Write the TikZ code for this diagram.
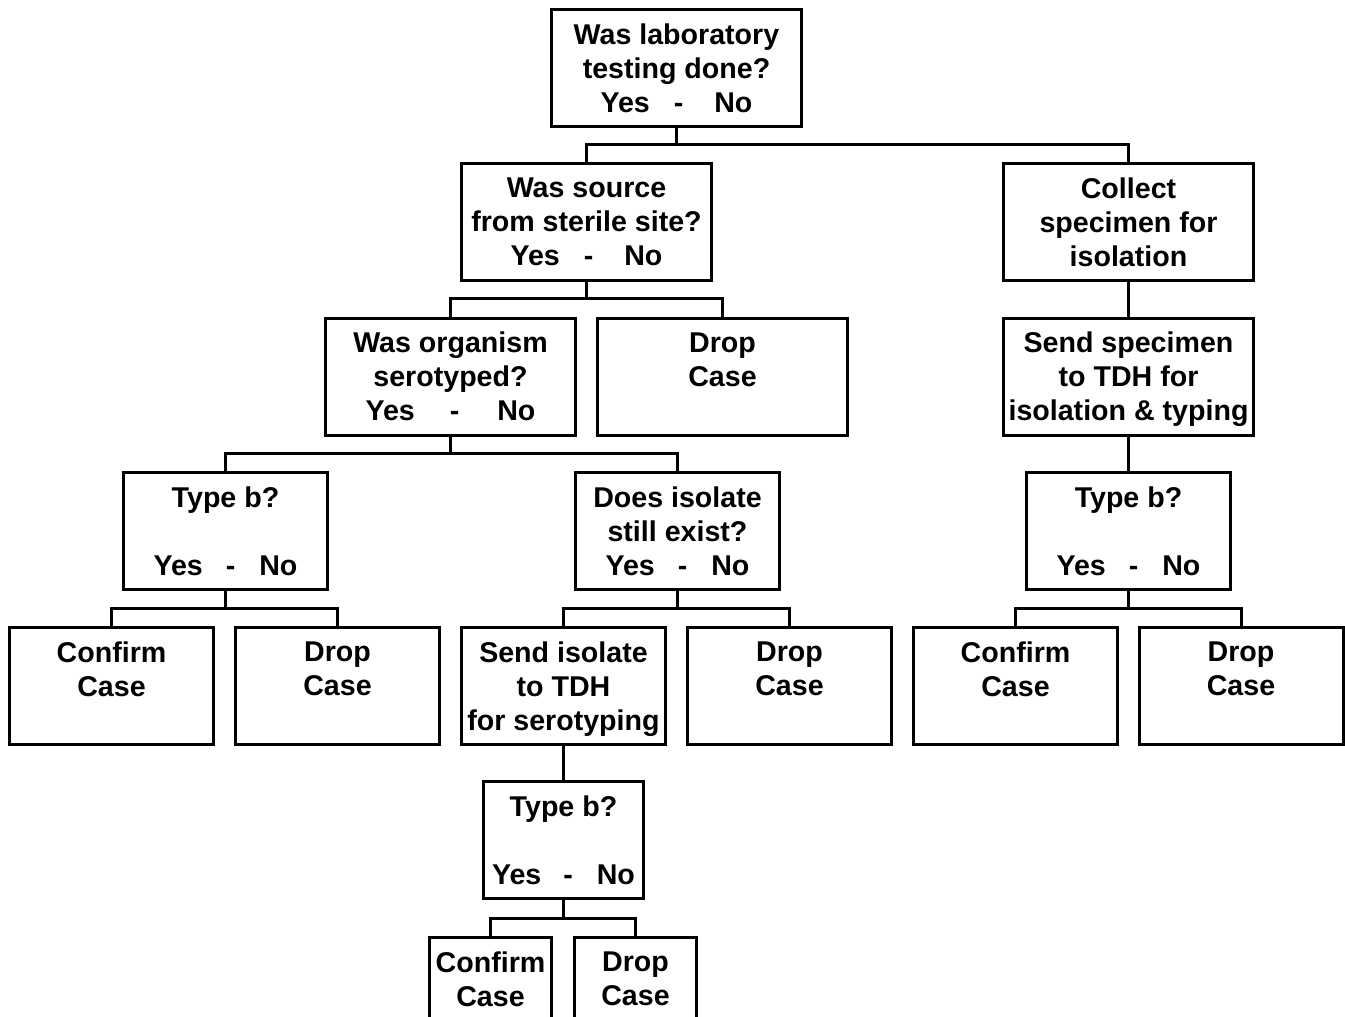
\documentclass[tikz,border=0pt]{standalone}
\usepackage{fontspec}
\setmainfont{Liberation Sans}
\usepackage{tikz}

\begin{document}
\begin{tikzpicture}[x=1pt, y=-1pt,
  caja/.style={draw, line width=3pt, minimum width=250pt, minimum height=117pt, align=center, inner sep=0pt,
    text depth=0pt, font=\bfseries\fontsize{28.6}{34}\selectfont},
  media/.style={caja, minimum width=204pt},
  chica/.style={caja, minimum width=160pt},
  mini/.style={caja, minimum width=122pt},
  rama/.style={line width=3pt}]
\useasboundingbox (0,0) rectangle (1345,1017);
\clip (0,0) rectangle (1345,1017);
\node[caja] (lab) at (676.5,68) {Was laboratory\\ testing done?\\ Yes\hspace{24pt}-\hspace{31pt}No};
\node[caja] (src) at (586.5,222) {Was source\\ from sterile site?\\ Yes\hspace{24pt}-\hspace{31pt}No};
\node[caja] (col) at (1128.5,222) {Collect\\ specimen for\\ isolation};
\node[caja] (org) at (450.5,376.5) {Was organism\\ serotyped?\\ Yes\hspace{35pt}-\hspace{38pt}No};
\node[caja] (drop1) at (722.5,376.5) {Drop\\ Case\\ \mbox{}};
\node[caja] (spec) at (1128.5,376.5) {Send specimen\\ to TDH for\\ isolation \& typing};
\node[media] (typeL) at (225.5,531) {Type b?\\ \mbox{}\\ Yes\hspace{23pt}-\hspace{24pt}No};
\node[media] (iso) at (677.5,531) {Does isolate\\ still exist?\\ Yes\hspace{23pt}-\hspace{24pt}No};
\node[media] (typeR) at (1128.5,531) {Type b?\\ \mbox{}\\ Yes\hspace{23pt}-\hspace{24pt}No};
\node[media] (confL) at (111.5,686) {Confirm\\ Case\\ \mbox{}};
\node[media] (dropL) at (337.5,686) {Drop\\ Case\\ \mbox{}};
\node[media] (send) at (563.5,686) {Send isolate\\ to TDH\\ for serotyping};
\node[media] (dropM) at (789.5,686) {Drop\\ Case\\ \mbox{}};
\node[media] (confR) at (1015.5,686) {Confirm\\ Case\\ \mbox{}};
\node[media] (dropR) at (1241,686) {Drop\\ Case\\ \mbox{}};
\node[chica] (typeB) at (563.5,840) {Type b?\\ \mbox{}\\ Yes\hspace{22pt}-\hspace{24pt}No};
\node[mini] (confB) at (490.5,996) {Confirm\\ Case\\ \mbox{}};
\node[mini] (dropB) at (635.5,996) {Drop\\ Case\\ \mbox{}};
% ramas del arbol
\draw[rama] (src.north) -- ++(0,-18) -| (lab.south);
\draw[rama] (col.north) -- ++(0,-18) -| (lab.south);
\draw[rama] (org.north) -- ++(0,-18) -| (src.south);
\draw[rama] (drop1.north) -- ++(0,-18) -| (src.south);
\draw[rama] (col) -- (spec);
\draw[rama] (typeL.north) -- ++(0,-18) -| (org.south);
\draw[rama] (iso.north) -- ++(0,-18) -| (org.south);
\draw[rama] (spec) -- (typeR);
\draw[rama] (confL.north) -- ++(0,-18) -| (typeL.south);
\draw[rama] (dropL.north) -- ++(0,-18) -| (typeL.south);
\draw[rama] (send.north) -- ++(0,-18) -| (iso.south);
\draw[rama] (dropM.north) -- ++(0,-18) -| (iso.south);
\draw[rama] (confR.north) -- ++(0,-18) -| (typeR.south);
\draw[rama] (dropR.north) -- ++(0,-18) -| (typeR.south);
\draw[rama] (send) -- (typeB);
\draw[rama] (confB.north) -- ++(0,-18) -| (typeB.south);
\draw[rama] (dropB.north) -- ++(0,-18) -| (typeB.south);
\end{tikzpicture}
\end{document}
